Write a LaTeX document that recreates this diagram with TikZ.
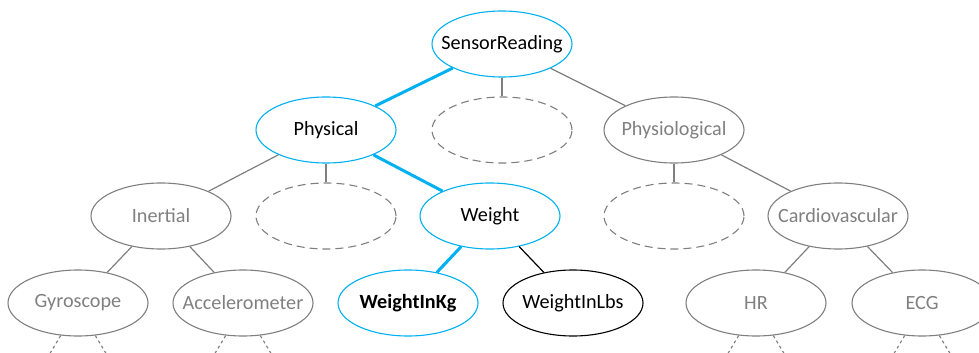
\documentclass[tikz,border=0pt]{standalone}
\usepackage{fontspec}
\setmainfont{Carlito}
\usetikzlibrary{shapes.geometric}
\definecolor{hlblue}{HTML}{00B0F0}
\definecolor{grayline}{HTML}{7F7F7F}
\definecolor{graytext}{HTML}{808080}
\newcommand{\lbl}[1]{\makebox[0pt]{#1}}
\tikzset{
  base/.style={ellipse, minimum width=140pt, minimum height=66pt, inner sep=0pt, line width=1.1pt,
    font=\fontsize{20.2}{22}\selectfont},
  graynode/.style={base, draw=grayline, text=graytext},
  bluenode/.style={base, draw=hlblue, text=black},
  blacknode/.style={base, draw=black, text=black},
  emptynode/.style={base, draw=grayline, dash pattern=on 8pt off 5pt},
  grayedge/.style={draw=grayline, line width=1.2pt},
  blueedge/.style={draw=hlblue, line width=3pt},
  blackedge/.style={draw=black, line width=1.2pt},
  leafedge/.style={draw=grayline, line width=1.1pt, dash pattern=on 3pt off 3pt},
}
\begin{document}
\begin{tikzpicture}[x=1pt,y=-1pt]
\useasboundingbox (0,0) rectangle (979,353);
% level 0
\node[bluenode] (sensor) at (502,44) {\lbl{SensorReading}};
% level 1
\node[bluenode] (physical) at (326,130) {\lbl{Physical}};
\node[emptynode] (e1) at (502,130) {};
\node[graynode] (physio) at (674,130) {\lbl{Physiological}};
% level 2
\node[graynode] (inertial) at (161,216) {\lbl{Inertial}};
\node[emptynode] (e2) at (326,216) {};
\node[bluenode] (weight) at (490,216) {\lbl{Weight}};
\node[emptynode] (e3) at (674,216) {};
\node[graynode] (cardio) at (838,216) {\lbl{Cardiovascular}};
% level 3
\node[graynode] (gyro) at (78,303) {\lbl{Gyroscope}};
\node[graynode] (accel) at (243,303) {\lbl{Accelerometer}};
\node[bluenode, font=\fontsize{20.2}{22}\selectfont\bfseries] (kg) at (408,303) {\lbl{WeightInKg}};
\node[blacknode] (lbs) at (573,303) {\lbl{WeightInLbs}};
\node[graynode] (hr) at (756,303) {\lbl{HR}};
\node[graynode] (ecg) at (922,303) {\lbl{ECG}};
% connectors
\draw[blueedge] (sensor) -- (physical);
\draw[grayedge] (sensor.south) -- (e1.north);
\draw[grayedge] (sensor) -- (physio);
\draw[grayedge] (physical) -- (inertial);
\draw[grayedge] (physical.south) -- (e2.north);
\draw[blueedge] (physical) -- (weight);
\draw[grayedge] (physio.south) -- (e3.north);
\draw[grayedge] (physio) -- (cardio);
\draw[grayedge] (inertial) -- (gyro);
\draw[grayedge] (inertial) -- (accel);
\draw[blueedge] (weight) -- (kg);
\draw[blackedge] (weight) -- (lbs);
\draw[grayedge] (cardio) -- (hr);
\draw[grayedge] (cardio) -- (ecg);
% leaf stubs
\foreach \n in {gyro,accel,hr,ecg}{
  \draw[leafedge] (\n.242) -- ++(-12,20);
  \draw[leafedge] (\n.298) -- ++(12,20);
}
\end{tikzpicture}
\end{document}
